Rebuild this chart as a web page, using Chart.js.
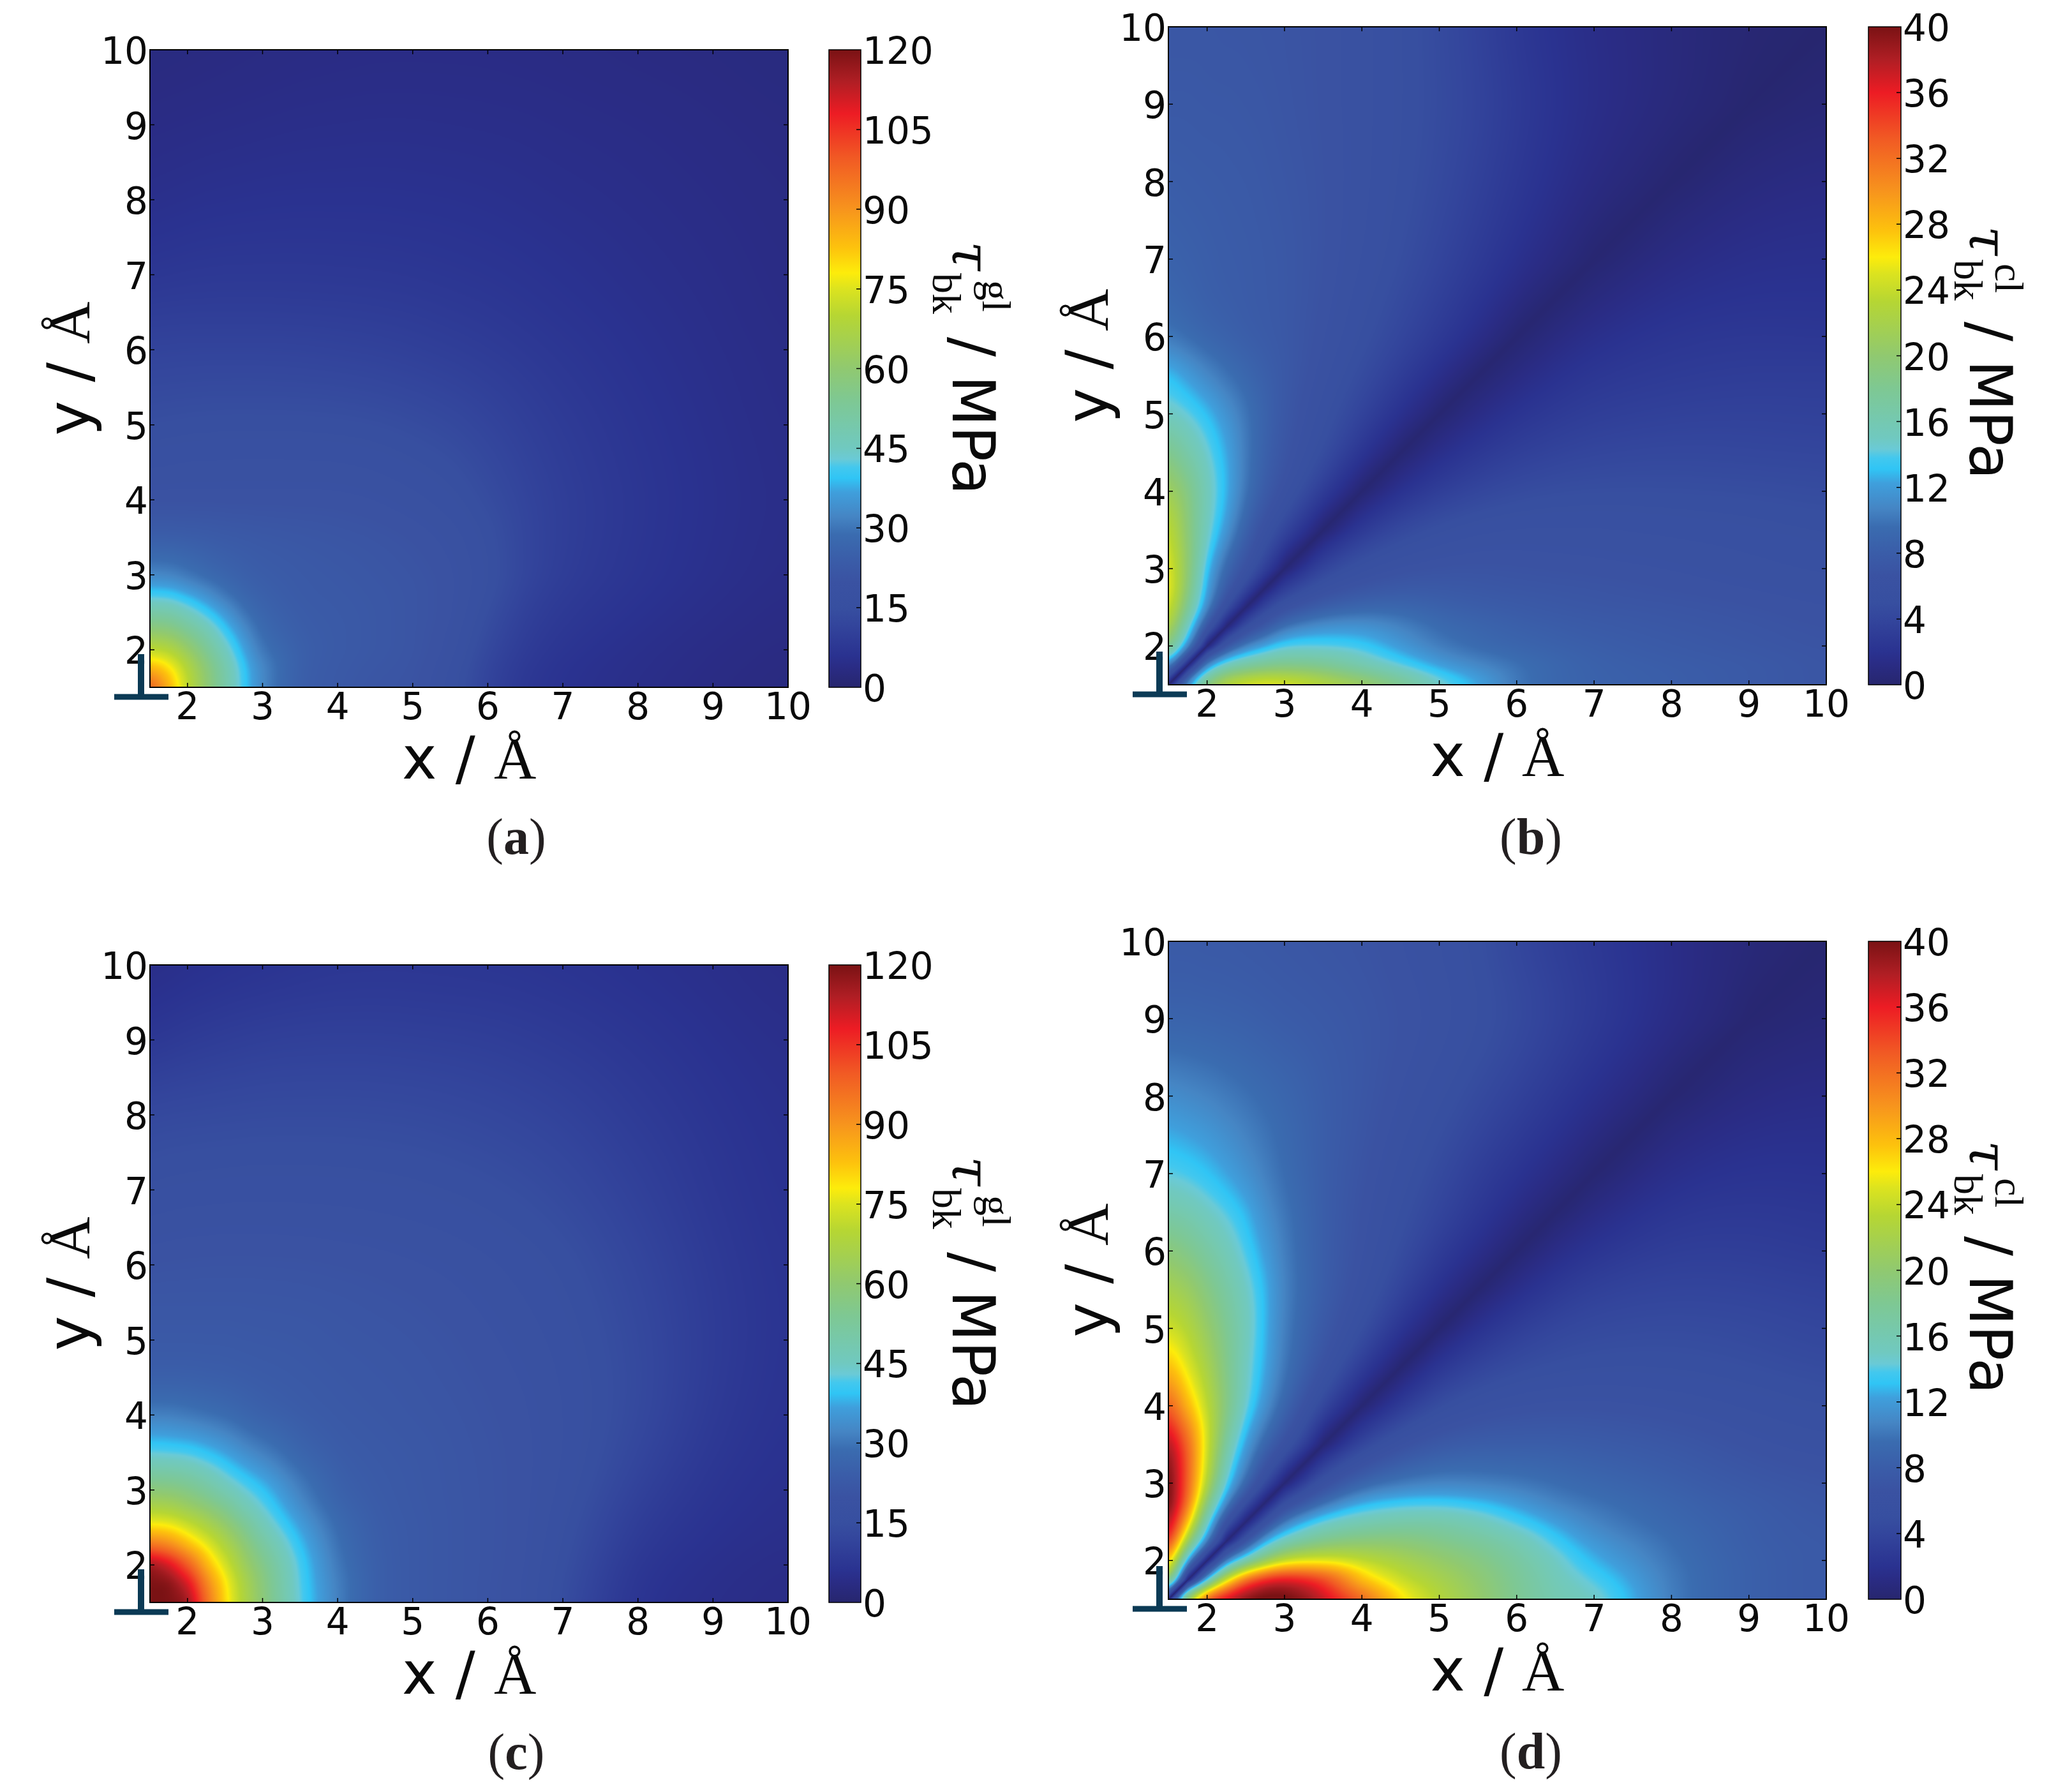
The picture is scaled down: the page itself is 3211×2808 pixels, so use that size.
<!DOCTYPE html>
<html><head><meta charset="utf-8">
<style>
@font-face{font-family:'AngstromSerif';src:local('Liberation Serif');unicode-range:U+00C5}
html,body{margin:0;padding:0;background:#fff;width:3211px;height:2808px;overflow:hidden}
canvas{position:absolute;display:block}
</style>
<script src="https://cdn.jsdelivr.net/npm/chart.js@4/dist/chart.umd.min.js"></script>
</head><body>
<script>
// ---------- data ----------
const gridCoords=[1.5,1.75,2,2.25,2.5,2.75,3,3.5,4,4.5,5,5.5,6,6.5,7,8,9,10];
const axisTicks=[2,3,4,5,6,7,8,9,10];
const glTicks=[0,15,30,45,60,75,90,105,120];
const clTicks=[0,4,8,12,16,20,24,28,32,36,40];
const captions=['a','b','c','d'];

// rows run over y = gridCoords, columns over x = gridCoords
const tauA=[
[100,86,71,60,50,40.5,32,24,22.5,21,20.5,17,11,7.5,6,4.6,3.6,3],
[86,80,69,59,49.5,40,32,24.3,22.7,21.5,20.8,17.5,11.5,8,6.2,4.8,3.8,3.1],
[71,69,62,54,45.5,37,29.5,24.5,23,22,21,18.5,12.5,8.8,6.8,5.1,4,3.3],
[60,59,54,48,40.5,33.5,27.5,24,23,22,21,19,13.5,9.5,7.4,5.5,4.3,3.5],
[50,49.5,45.5,40.5,35,29.5,26,23.5,22.8,22,21,19.5,14.5,10.2,8,6,4.6,3.7],
[40.5,40,37,33.5,29.5,26.5,24.8,23,22.5,21.8,21,19.5,15.5,11,8.6,6.4,4.9,3.9],
[32,31.5,29.5,27.5,26,24.8,23.8,22.8,22.2,21.5,20.8,19.5,16,11.8,9.2,6.8,5.2,4.1],
[24,24,23.8,23.5,23,22.7,22.3,21.8,21.3,20.8,20,18.5,15.5,11.8,9.6,7.1,5.4,4.3],
[19.5,19.5,19.5,19.5,19.5,19.5,19.5,19.5,19.5,19,18,16.5,14,11.5,9.6,7.2,5.5,4.4],
[17,17.2,17.5,17.5,17.6,17.6,17.6,17.6,17.5,17,16,14.8,12.8,10.8,9.2,7,5.4,4.3],
[14.8,15,15.2,15.3,15.4,15.4,15.4,15.4,15.2,14.8,14,13,11.5,10,8.7,6.7,5.2,4.2],
[13,13.1,13.2,13.3,13.3,13.3,13.3,13.2,13,12.6,12,11.2,10.2,9.1,8,6.3,5,4.1],
[11.2,11.3,11.4,11.4,11.4,11.4,11.4,11.3,11,10.7,10.2,9.6,8.9,8.1,7.3,5.9,4.8,4],
[9.3,9.4,9.5,9.5,9.5,9.5,9.5,9.4,9.3,9.1,8.8,8.3,7.8,7.2,6.6,5.5,4.6,3.8],
[7.3,7.5,7.7,7.8,7.9,7.9,7.9,7.9,7.8,7.7,7.5,7.2,6.9,6.5,6,5.1,4.4,3.7],
[5,5.2,5.4,5.6,5.7,5.8,5.9,6,6,6,5.9,5.8,5.6,5.3,5,4.5,4,3.5],
[3.8,3.9,4,4.1,4.2,4.3,4.4,4.6,4.7,4.8,4.8,4.7,4.6,4.5,4.3,4,3.6,3.2],
[2.8,2.9,3,3.1,3.2,3.3,3.4,3.6,3.7,3.8,3.8,3.8,3.8,3.7,3.6,3.3,3.1,2.8]];

const tauB=[
[0,12.8,20,24,25.5,26,25.5,23.5,21.5,18.5,15,12.5,10,9,8.5,8.1,7.6,7],
[12,.5,11.8,15.5,17,18,18.5,18,16,14,12,10.8,9.8,9,8.4,8,7.6,7],
[19.5,11.8,.4,7,10.5,12.3,14,14,13.5,11.8,10.2,9.3,8.8,8.4,8.1,7.6,7.2,6.8],
[23,15,7,.4,5,7.5,10,11.5,11.6,10.6,9.4,8.8,8.3,8,7.7,7.3,7,6.6],
[25,18,11,5,.4,4,6.2,8.2,9,9,8.4,8,7.7,7.4,7.2,7,6.7,6.3],
[26,19.5,12.2,7.8,4,.3,3.2,5.8,7,7.5,7.5,7.3,7.1,7,6.9,6.6,6.3,6],
[25.5,20,13,9,6.5,3.4,.3,4,5.6,6.4,6.7,6.8,6.7,6.6,6.5,6.3,6,5.7],
[24,19.5,15,11.8,8.5,6,4,.2,2.8,4.3,5.2,5.7,5.9,5.9,5.9,5.7,5.5,5.2],
[21.5,19,15.5,12.8,10,7.8,6.2,3,.2,2,3.2,4,4.5,4.8,4.9,4.9,4.8,4.6],
[18.5,16.5,14.5,12.5,10.2,8.4,7,4.8,2.3,.2,1.6,2.6,3.3,3.7,4,4.2,4.1,4],
[15,14.2,13,11.5,10,8.6,7.3,5.5,3.7,1.9,.2,1.3,2.2,2.8,3.2,3.5,3.6,3.5],
[13.2,12,10.8,9.8,9,8.2,7.5,6,4.6,3.1,1.6,.2,1.1,1.9,2.5,2.9,3.1,3.1],
[10,9.4,8.8,8.4,8,7.7,7.4,6.4,5.2,4,2.8,1.5,.2,1,1.7,2.4,2.6,2.5],
[9,8.6,8.2,8,7.8,7.6,7.4,6.6,5.5,4.5,3.4,2.3,1.1,.2,.9,1.8,2.1,2.1],
[8.5,8.3,8.1,7.9,7.8,7.6,7.4,6.7,5.8,4.9,3.9,2.9,1.9,1,.2,1.2,1.7,1.8],
[8,7.9,7.8,7.7,7.6,7.4,7.2,6.7,6,5.2,4.4,3.5,2.6,1.8,1.1,.15,.9,1.2],
[7.5,7.5,7.4,7.4,7.3,7.2,7,6.6,6,5.3,4.6,3.8,2.9,2.1,1.5,.8,.1,.5],
[7.2,7.2,7.2,7.1,7.1,7,6.9,6.6,6,5.3,4.5,3.6,2.6,1.9,1.4,.8,.3,.05]];

const tauC=[
[120,120,118,97,80,68,58.5,42,31,24.5,22.5,21.5,20.5,19,14,6.2,4.7,4],
[120,120,112,93,79,67,58,41.5,31,24.5,22.5,21.5,20.5,19,14.5,6.6,4.9,4.1],
[118,112,100,85,74,63.5,56,41,30,24.5,22.5,21.5,20.6,19.2,15,7.2,5.2,4.3],
[97,93,85,77,68,60,52,39,29,24.2,22.5,21.5,20.6,19.3,15.5,8,5.6,4.6],
[80,79,74,68,62,55,47,36.5,28,24,22.5,21.5,20.6,19.4,16,8.8,6,4.9],
[68,67,63.5,60,55,48,43,33.5,26.5,23.6,22.3,21.5,20.6,19.4,16.5,9.6,6.4,5.1],
[58.5,58,56,52,47,43,39.5,31,25,23.2,22.2,21.4,20.6,19.4,17,10.5,6.8,5.3],
[42,41.5,41,39,36.5,33.5,31,26,23.5,22.6,22,21.3,20.5,19.4,17.5,12,7.6,5.7],
[31,31,30,29,28,26.5,25,23.5,22.5,22,21.5,21,20.2,19.2,17.5,13,8.2,6],
[24.5,24.5,24.5,24.2,24,23.6,23.2,22.6,22,21.6,21.2,20.6,19.8,18.8,17.3,13.2,8.6,6.2],
[22.5,22.5,22.5,22.5,22.5,22.3,22.2,22,21.5,21.2,20.8,20.2,19.3,18.2,16.8,13,8.8,6.3],
[21.5,21.5,21.5,21.5,21.5,21.5,21.4,21.3,21,20.6,20.2,19.5,18.6,17.5,16.2,12.6,8.7,6.3],
[20,20.2,20.3,20.4,20.4,20.4,20.4,20.3,20,19.7,19.2,18.6,17.8,16.7,15.5,12,8.4,6.2],
[18,18.3,18.5,18.6,18.7,18.7,18.7,18.6,18.4,18.1,17.7,17.2,16.4,15.5,14.4,11.2,8,6],
[16,16.3,16.5,16.6,16.7,16.8,16.8,16.8,16.7,16.5,16.2,15.7,15.1,14.3,13.2,10.4,7.6,5.8],
[13,13.2,13.3,13.4,13.5,13.6,13.7,13.7,13.7,13.6,13.4,13,12.5,11.8,11,8.8,6.8,5.4],
[7.5,8,8.6,9,9.4,9.7,10,10.3,10.4,10.4,10.2,10,9.7,9.2,8.6,7.2,5.8,4.8],
[4.3,4.6,5,5.3,5.6,5.9,6.1,6.6,7,7.1,7.1,7,6.9,6.7,6.4,5.6,4.8,4]];

const tauD=[
[0,24,35,38,40,41,41,38,33,26.5,23,20.5,18,16,15.2,10,8.2,7.5],
[22,.5,13,25,33,36.5,37.5,35,27.5,24,22,20,17.8,15.6,14,10,8.2,7.5],
[29,12,.5,10.5,15.5,20,24,25,23.5,22,20.5,19,17.2,15,12.6,9.8,8.2,7.5],
[36,21,11,.5,6.5,12.5,15.5,18.5,19.5,19.5,18.5,17.5,16,13.6,11.5,9.5,8,7.5],
[39,28,15,6,.5,5.5,10.5,14.5,15.8,16.5,16.5,15.5,13.8,12,10.5,9,8,7.3],
[41,32,19,11,5,.4,5,9.5,12.6,13.5,13.6,13,11.8,10.5,9.8,8.7,7.8,7],
[41,33,23,13.8,9.5,4.5,.4,6,8.8,10,10.5,10.3,10,9.5,9,8.2,7.3,6.8],
[39,33,24.5,17,12,9,6.5,.3,4,6.3,7.5,8,8,8,7.8,7.3,6.5,6],
[33,28,23.5,19,14.5,11.5,9,4,.3,2.8,4.8,5.8,6.3,6.5,6.5,6.2,5.7,5.2],
[28,25,22,18.5,15,12.5,10,6.5,3,.2,2.5,3.8,4.6,5,5.2,5.2,4.9,4.5],
[24.5,23,20.5,18,15.5,12.8,10.3,7.5,5,2.3,.2,2,3.2,4,4.4,4.6,4.4,4],
[22,21,19,17,15,12.8,10.5,8,6,3.8,1.8,.2,1.6,2.7,3.5,3.9,3.8,3.5],
[19.5,18.5,17,15.5,13.8,12,10.3,8,6.4,4.7,3,1.6,.2,1.4,2.3,3.2,3.2,2.9],
[16.5,16,15,14,12.8,11.2,10,8,6.6,5.2,3.9,2.6,1.3,.2,1.2,2.5,2.7,2.5],
[14,13.6,13,12.2,11.3,10.4,9.5,8,6.8,5.6,4.4,3.2,2.2,1.2,.2,1.7,2.2,2.1],
[11.2,10.9,10.6,10.2,9.8,9.4,9,8,7.2,6.3,5.4,4.5,3.6,2.7,1.8,.2,1.1,1.4],
[8.5,8.5,8.4,8.3,8.2,8,7.8,7.5,7.2,6.7,6.2,5.4,4.6,3.7,2.9,1.4,.2,.6],
[7.6,7.6,7.5,7.5,7.4,7.3,7.2,7,6.8,6.3,5.8,5,4,3.2,2.6,1.4,.6,.1]];

// colour scale sampled from the colour bars: [fraction, r, g, b]
const cmapStops=[[0,39,38,110],[.032,42,44,133],[.05,42,50,144],[.098,51,69,156],[.125,55,79,160],[.165,58,82,162],[.198,58,92,168],[.24,58,108,176],[.268,69,133,196],[.306,63,159,220],[.328,48,197,245],[.345,67,200,238],[.358,106,202,214],[.375,112,201,192],[.45,126,200,147],[.5,144,201,112],[.583,182,214,51],[.625,220,227,31],[.65,253,236,11],[.69,253,194,13],[.75,247,148,29],[.83,241,90,36],[.9,237,28,36],[.95,176,30,36],[1,122,18,20]];

// ---------- layout ----------
const panels=[
 {key:'a',data:tauA,max:120,ticks:glTicks,sup:'gl',valley:false,ox:0,oy:0,w:1290,h:1400,L:235,R:1235,T:78,B:1077,cL:1299,cR:1349,cw:320,
  tb:1493,sb:1462,ub:1540,tauY:384,supY:439,subY:428,slashY:528,capX:809,capY:1338},
 {key:'b',data:tauB,max:40,ticks:clTicks,sup:'cl',valley:true,ox:1640,oy:0,w:1280,h:1400,L:1831,R:2862,T:42,B:1073,cL:2928,cR:2979,cw:293,
  tb:3087,sb:3063,ub:3127,tauY:360,supY:413,subY:407,slashY:504,capX:2399,capY:1338},
 {key:'c',data:tauC,max:120,ticks:glTicks,sup:'gl',valley:false,ox:0,oy:1400,w:1290,h:1408,L:235,R:1235,T:1512,B:2511,cL:1299,cR:1349,cw:320,
  tb:1493,sb:1462,ub:1540,tauY:1818,supY:1873,subY:1862,slashY:1962,capX:809,capY:2772},
 {key:'d',data:tauD,max:40,ticks:clTicks,sup:'cl',valley:true,ox:1640,oy:1400,w:1280,h:1408,L:1831,R:2862,T:1475,B:2506,cL:2928,cR:2979,cw:293,
  tb:3087,sb:3063,ub:3127,tauY:1793,supY:1846,subY:1840,slashY:1937,capX:2399,capY:2771}];

const SANS='"DejaVu Sans"',INK='#0a0a0a',DISLOC='#0b3a55';
const tickFont={family:SANS,size:58};
const titleFont={family:'AngstromSerif,"DejaVu Sans"',size:92};

function colorAt(t){
  t=Math.max(0,Math.min(1,t));
  let i=1;while(i<cmapStops.length-1&&cmapStops[i][0]<t)i++;
  const a=cmapStops[i-1],b=cmapStops[i],f=(t-a[0])/(b[0]-a[0]);
  return [a[1]+(b[1]-a[1])*f,a[2]+(b[2]-a[2])*f,a[3]+(b[3]-a[3])*f];
}
function cellIndex(v){let i=0;while(i<gridCoords.length-2&&gridCoords[i+1]<v)i++;return i;}
// local mesh spacing at a coordinate, used as the shading softness
function spacingAt(v){
  const n=gridCoords.length,i=cellIndex(v),u=(v-gridCoords[i])/(gridCoords[i+1]-gridCoords[i]);
  const h=k=>gridCoords[Math.max(1,Math.min(n-1,k))]-gridCoords[Math.max(1,Math.min(n-1,k))-1];
  const s0=(h(i)+h(i+1))/2,s1=(h(i+1)+h(i+2))/2;
  return s0+(s1-s0)*u;
}

// shades the mesh of read values through the chart's own scales
const lut=(()=>{const n=2400,o=new Uint8ClampedArray(n*3+3);for(let i=0;i<=n;i++){const c=colorAt(i/n);o[i*3]=c[0];o[i*3+1]=c[1];o[i*3+2]=c[2];}return {n,o};})();
const ringDirs=[[1,0],[.707,.707],[0,1],[-.707,.707],[-1,0],[-.707,-.707],[0,-1],[.707,-.707]];
const meshPlugin={id:'mesh',beforeDatasetsDraw(chart,args,opts){
  const {x:xs,y:ys}=chart.scales,a=chart.chartArea,w=Math.round(a.right-a.left),h=Math.round(a.bottom-a.top);
  if(!chart.$heat){
    const off=document.createElement('canvas');off.width=w;off.height=h;
    const c=off.getContext('2d'),img=c.createImageData(w,h),M=opts.rows;
    const X=new Float32Array(w),Y=new Float32Array(h),I=new Int32Array(w),J=new Int32Array(h),U=new Float32Array(w),V=new Float32Array(h),Rx=new Float32Array(w),Ry=new Float32Array(h);
    const ppx=w/8.5,ppy=h/8.5;
    for(let p=0;p<w;p++){X[p]=xs.getValueForPixel(a.left+p+.5);I[p]=cellIndex(X[p]);U[p]=(X[p]-gridCoords[I[p]])/(gridCoords[I[p]+1]-gridCoords[I[p]]);Rx[p]=.55*spacingAt(X[p])*ppx;}
    for(let p=0;p<h;p++){Y[p]=ys.getValueForPixel(a.top+p+.5);J[p]=cellIndex(Y[p]);V[p]=(Y[p]-gridCoords[J[p]])/(gridCoords[J[p]+1]-gridCoords[J[p]]);Ry[p]=.55*spacingAt(Y[p])*ppy;}
    const F=new Float32Array(w*h);
    for(let py=0;py<h;py++){const j=J[py],v=V[py];
      for(let px=0;px<w;px++){const i=I[px],u=U[px];
        const q00=M[j][i],q10=M[j][i+1],q01=M[j+1][i],q11=M[j+1][i+1];
        F[py*w+px]=u>=v?q00+u*(q10-q00)+v*(q11-q10):q00+v*(q01-q00)+u*(q11-q01);
      }}
    for(let py=0;py<h;py++){for(let px=0;px<w;px++){
      let rx=Rx[px],ry=Ry[py];
      if(opts.valley){const lim=.75*Math.abs(X[px]-Y[py])*ppx/1.414;if(rx>lim)rx=lim;if(ry>lim)ry=lim;}
      let s=F[py*w+px],n=1;
      if(rx>.7||ry>.7){
        for(let d=0;d<8;d++){const dx=ringDirs[d][0],dy=ringDirs[d][1];
          for(let q=1;q<=2;q++){
            const f=q/2;
            let ax=Math.round(px+dx*rx*f),ay=Math.round(py+dy*ry*f);
            if(ax<0)ax=0;else if(ax>=w)ax=w-1;
            if(ay<0)ay=0;else if(ay>=h)ay=h-1;
            s+=F[ay*w+ax];n++;
          }
        }
      }
      const t=Math.max(0,Math.min(1,s/n/opts.max)),li=Math.round(t*lut.n)*3,k=(py*w+px)*4;
      img.data[k]=lut.o[li];img.data[k+1]=lut.o[li+1];img.data[k+2]=lut.o[li+2];img.data[k+3]=255;
    }}
    c.putImageData(img,0,0);
    chart.$heat=off;
  }
  chart.ctx.drawImage(chart.$heat,a.left,a.top);
}};

// frame, inward ticks, dislocation sign and caption
const framePlugin={id:'frame',afterDraw(chart,args,opts){
  const ctx=chart.ctx,a=chart.chartArea,{x:xs,y:ys}=chart.scales;
  ctx.save();ctx.strokeStyle='#000';ctx.lineWidth=1.5;
  ctx.beginPath();
  axisTicks.forEach(t=>{
    const px=xs.getPixelForValue(t),py=ys.getPixelForValue(t);
    if(t<10){
      ctx.moveTo(px,a.bottom);ctx.lineTo(px,a.bottom-7);ctx.moveTo(px,a.top);ctx.lineTo(px,a.top+7);
      ctx.moveTo(a.left,py);ctx.lineTo(a.left+7,py);ctx.moveTo(a.right,py);ctx.lineTo(a.right-7,py);
    }
  });
  ctx.stroke();
  ctx.lineWidth=2;ctx.strokeRect(a.left,a.top,a.right-a.left,a.bottom-a.top);
  ctx.fillStyle=DISLOC;
  ctx.fillRect(a.left-56,a.bottom+10.5,85,9);
  ctx.fillRect(a.left-19,a.bottom-52,10,63);
  // caption
  const cx=opts.capX,cy=opts.capY,f1='80px "Liberation Serif"',f2='bold 80px "Liberation Serif"';
  ctx.fillStyle='#231f20';ctx.textBaseline='alphabetic';ctx.textAlign='left';
  ctx.font=f1;const pw=ctx.measureText('(').width;
  ctx.font=f2;const lw=ctx.measureText(opts.letter).width;
  let tx=cx-(2*pw+lw)/2;
  ctx.font=f1;ctx.fillText('(',tx,cy);tx+=pw;
  ctx.font=f2;ctx.fillText(opts.letter,tx,cy);tx+=lw;
  ctx.font=f1;ctx.fillText(')',tx,cy);
  ctx.restore();
}};

// colour bar body and its rotated label
const barPlugin={id:'bar',beforeDatasetsDraw(chart,args,opts){
  const ctx=chart.ctx,a=chart.chartArea,ys=chart.scales.y;
  const g=ctx.createLinearGradient(0,ys.getPixelForValue(0),0,ys.getPixelForValue(opts.max));
  cmapStops.forEach(s=>g.addColorStop(s[0],`rgb(${s[1]},${s[2]},${s[3]})`));
  ctx.fillStyle=g;ctx.fillRect(a.left,a.top,a.right-a.left,a.bottom-a.top);
},afterDraw(chart,args,opts){
  const ctx=chart.ctx,a=chart.chartArea,ys=chart.scales.y,p=opts.p,ox=p.cL-10,oy=p.T-50;
  ctx.save();ctx.strokeStyle='#000';ctx.lineWidth=1.5;ctx.beginPath();
  opts.ticks.forEach(t=>{const py=ys.getPixelForValue(t);
    if(t>0&&t<opts.max){ctx.moveTo(a.right,py);ctx.lineTo(a.right-7,py);}});
  ctx.stroke();
  ctx.strokeRect(a.left,a.top,a.right-a.left,a.bottom-a.top);
  ctx.fillStyle=INK;ctx.textBaseline='alphabetic';ctx.textAlign='left';
  const piece=(s,font,base,y)=>{ctx.save();ctx.translate(base-ox,y-oy);ctx.rotate(Math.PI/2);ctx.font=font;ctx.fillText(s,0,0);ctx.restore();};
  piece('τ','italic 84px "DejaVu Serif"',p.tb,p.tauY-6);
  piece('bk','64px "Liberation Serif"',p.sb,p.subY);
  piece(p.sup,'64px "Liberation Serif"',p.ub,p.supY);
  piece('/ MPa','92px "DejaVu Sans"',p.tb,p.slashY);
  ctx.restore();
}};

const charts=[];
panels.forEach(p=>{
  const cv=document.createElement('canvas');cv.width=p.w;cv.height=p.h;
  cv.style.left=p.ox+'px';cv.style.top=p.oy+'px';cv.style.width=p.w+'px';cv.style.height=p.h+'px';
  cv.id='panel-'+p.key;document.body.appendChild(cv);
  const yW=200,xH=250;
  const points=[];
  p.data.forEach((row,j)=>row.forEach((v,i)=>points.push({x:gridCoords[i],y:gridCoords[j],v})));
  charts.push(new Chart(cv,{type:'scatter',
    data:{datasets:[{label:'tau '+p.sup,data:points,pointRadius:0,showLine:false}]},
    options:{responsive:false,animation:false,devicePixelRatio:1,
      layout:{autoPadding:false,padding:{left:p.L-p.ox-yW,top:p.T-p.oy,right:p.w-(p.R-p.ox),bottom:p.h-(p.B-p.oy)-xH}},
      plugins:{legend:{display:false},tooltip:{enabled:false},
        mesh:{rows:p.data,max:p.max,valley:p.valley},frame:{capX:p.capX-p.ox,capY:p.capY-p.oy,letter:p.key}},
      scales:{
        x:{type:'linear',min:1.5,max:10,position:'bottom',
          afterBuildTicks:s=>{s.ticks=axisTicks.map(v=>({value:v}));},
          afterFit:s=>{s.height=xH;},
          grid:{display:false,drawTicks:false},border:{display:false},
          ticks:{font:tickFont,color:INK,padding:0,autoSkip:false,maxRotation:0,minRotation:0},
          title:{display:true,text:'x / Å',font:titleFont,color:INK,padding:{top:0,bottom:76}}},
        y:{type:'linear',min:1.5,max:10,position:'left',
          afterBuildTicks:s=>{s.ticks=axisTicks.map(v=>({value:v}));},
          afterFit:s=>{s.width=yW;},
          grid:{display:false,drawTicks:false},border:{display:false},
          ticks:{font:tickFont,color:INK,padding:3,labelOffset:7,autoSkip:false,maxRotation:0,minRotation:0},
          title:{display:true,text:'y / Å',font:titleFont,color:INK,padding:{top:26,bottom:0}}}
      }},
    plugins:[meshPlugin,framePlugin]}));

  const cb=document.createElement('canvas');const ch=p.B-p.T+100;
  cb.width=p.cw;cb.height=ch;cb.style.left=(p.cL-10)+'px';cb.style.top=(p.T-50)+'px';
  cb.style.width=p.cw+'px';cb.style.height=ch+'px';cb.id='bar-'+p.key;document.body.appendChild(cb);
  const barW=p.cR-p.cL,axW=p.cw-10-barW;
  charts.push(new Chart(cb,{type:'scatter',
    data:{datasets:[{label:'colour bar',data:p.ticks.map(v=>({x:0,y:v})),pointRadius:0,showLine:false}]},
    options:{responsive:false,animation:false,devicePixelRatio:1,
      layout:{autoPadding:false,padding:{left:10,top:50,right:0,bottom:50}},
      plugins:{legend:{display:false},tooltip:{enabled:false},bar:{max:p.max,ticks:p.ticks,p}},
      scales:{
        x:{type:'linear',min:0,max:1,display:false},
        y:{type:'linear',min:0,max:p.max,position:'right',
          afterBuildTicks:s=>{s.ticks=p.ticks.map(v=>({value:v}));},
          afterFit:s=>{s.width=axW;},
          grid:{display:false,drawTicks:false},border:{display:false},
          ticks:{font:tickFont,color:INK,padding:3,labelOffset:7,autoSkip:false,maxRotation:0,minRotation:0}}
      }},
    plugins:[barPlugin]}));
});
if(document.fonts&&document.fonts.load){
  document.fonts.load('92px AngstromSerif','Å').then(()=>charts.forEach(c=>c.draw())).catch(()=>{});
}
</script>
</body></html>
